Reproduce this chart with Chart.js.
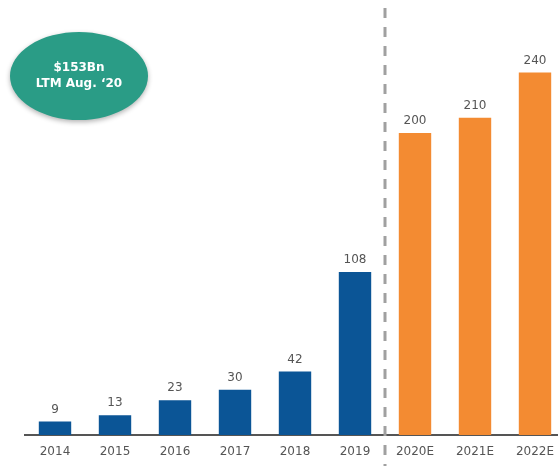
<!DOCTYPE html>
<html>
<head>
<meta charset="utf-8">
<script src="https://cdn.jsdelivr.net/npm/chart.js"></script>
<style>
  html, body { margin: 0; padding: 0; background: #fff; overflow: hidden; }
  #wrap { width: 566px; height: 466px; position: relative; }
</style>
</head>
<body>
<div id="wrap"><canvas id="chart"></canvas></div>
<script>
// market size, $Bn
const years = ['2014', '2015', '2016', '2017', '2018', '2019', '2020E', '2021E', '2022E'];
const values = [9, 13, 23, 30, 42, 108, 200, 210, 240];
const isEstimate = [false, false, false, false, false, false, true, true, true];
const bubbleLines = ['$153Bn', 'LTM Aug. \u201820'];

const BLUE = '#0b5596';
const ORANGE = '#f38b32';
const TEXT = '#555555';
const FONT = '"DejaVu Sans", sans-serif';

// numbers above each bar
const valueLabels = {
  id: 'valueLabels',
  afterDatasetsDraw(chart) {
    const ctx = chart.ctx;
    const meta = chart.getDatasetMeta(0);
    ctx.save();
    ctx.fillStyle = TEXT;
    ctx.font = '12px ' + FONT;
    ctx.textAlign = 'center';
    ctx.textBaseline = 'bottom';
    meta.data.forEach((bar, i) => {
      ctx.fillText(String(values[i]), bar.x, bar.y - 6);
    });
    ctx.restore();
  }
};

// dashed divider between actuals and estimates
const divider = {
  id: 'divider',
  afterDraw(chart) {
    const x = chart.scales.x;
    const last = isEstimate.indexOf(true);
    const px = (x.getPixelForTick(last - 1) + x.getPixelForTick(last)) / 2;
    const ctx = chart.ctx;
    ctx.save();
    ctx.strokeStyle = '#a0a0a0';
    ctx.lineWidth = 3;
    ctx.setLineDash([10, 9]);
    ctx.beginPath();
    ctx.moveTo(px, 8);
    ctx.lineTo(px, chart.height);
    ctx.stroke();
    ctx.restore();
  }
};

// LTM callout bubble
const bubble = {
  id: 'bubble',
  afterDraw(chart) {
    const ctx = chart.ctx;
    const cx = 79, cy = 76;
    ctx.save();
    ctx.shadowColor = 'rgba(0,0,0,0.3)';
    ctx.shadowBlur = 5;
    ctx.shadowOffsetY = 2;
    ctx.fillStyle = '#2a9c86';
    ctx.beginPath();
    ctx.ellipse(cx, cy, 69, 44, 0, 0, Math.PI * 2);
    ctx.fill();
    ctx.shadowColor = 'transparent';
    ctx.fillStyle = '#ffffff';
    ctx.font = 'bold 12px ' + FONT;
    ctx.textAlign = 'center';
    ctx.textBaseline = 'middle';
    ctx.fillText(bubbleLines[0], cx, cy - 8);
    ctx.fillText(bubbleLines[1], cx, cy + 8);
    ctx.restore();
  }
};

new Chart(document.getElementById('chart'), {
  type: 'bar',
  data: {
    labels: years,
    datasets: [{
      data: values,
      backgroundColor: isEstimate.map(e => e ? ORANGE : BLUE),
      barPercentage: 0.54,
      categoryPercentage: 1
    }]
  },
  options: {
    responsive: true,
    maintainAspectRatio: false,
    animation: false,
    layout: { padding: { left: 25, right: 1, top: 0, bottom: 0 } },
    plugins: { legend: { display: false }, tooltip: { enabled: false } },
    scales: {
      x: {
        grid: { display: false },
        border: { display: true, color: '#555555', width: 2 },
        ticks: { color: TEXT, font: { family: FONT, size: 12 }, padding: 2 },
        afterFit(s) { s.height = 31; }
      },
      y: {
        display: false,
        min: 0,
        max: 288
      }
    }
  },
  plugins: [valueLabels, divider, bubble]
});
</script>
</body>
</html>
